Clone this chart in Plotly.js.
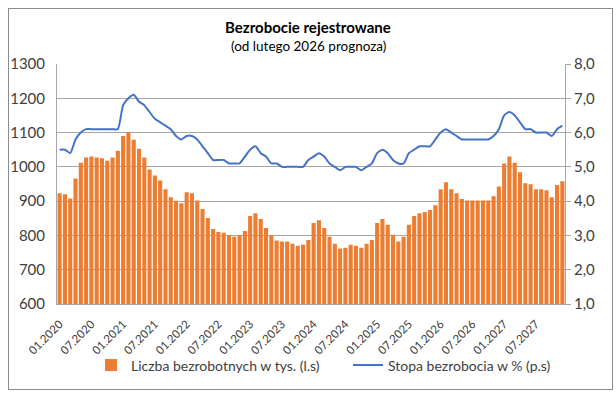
<!DOCTYPE html>
<html><head><meta charset="utf-8">
<script src="https://cdn.plot.ly/plotly-3.0.1.min.js"></script>
<style>html,body{margin:0;padding:0;background:#fff}
#wrap{position:relative;width:616px;height:394px}
#c{width:616px;height:394px}
#frame{position:absolute;left:8px;top:8px;width:603px;height:380px;border:1px solid #8C8C8C;pointer-events:none}
</style>
</head><body><div id="wrap"><div id="c"></div><div id="frame"></div></div>
<script>
// Months 01.2020 .. 12.2027
const months = [];
for (let y = 2020; y <= 2027; y++) for (let m = 1; m <= 12; m++) months.push((m < 10 ? '0' : '') + m + '.' + y);

const unemployed = [
  923, 920, 908, 966, 1012, 1027, 1030, 1027, 1025, 1018, 1027, 1047,
  1090, 1100, 1079, 1053, 1027, 992, 975, 960, 935, 911, 901, 894,
  926, 923, 902, 877, 851, 819, 810, 808, 801, 796, 800, 813,
  857, 865, 848, 822, 801, 785, 782, 782, 776, 770, 773, 787,
  836, 844, 822, 796, 776, 762, 764, 773, 770, 764, 776, 787,
  836, 848, 831, 802, 782, 796, 831, 857, 865, 868, 874, 888,
  935, 955, 935, 923, 906, 902, 902, 902, 902, 902, 914, 943,
  1010, 1030, 1012, 984, 952, 949, 935, 935, 932, 911, 947, 958
];

const rate = [
  5.5, 5.5, 5.4, 5.8, 6.0, 6.1, 6.1, 6.1, 6.1, 6.1, 6.1, 6.1,
  6.8, 7.0, 7.1, 6.9, 6.8, 6.6, 6.4, 6.3, 6.2, 6.1, 5.9, 5.8,
  5.9, 5.9, 5.8, 5.6, 5.4, 5.2, 5.2, 5.2, 5.1, 5.1, 5.1, 5.3,
  5.5, 5.6, 5.4, 5.3, 5.1, 5.1, 5.0, 5.0, 5.0, 5.0, 5.0, 5.2,
  5.3, 5.4, 5.3, 5.1, 5.0, 4.9, 5.0, 5.0, 5.0, 4.9, 5.0, 5.1,
  5.4, 5.5, 5.4, 5.2, 5.1, 5.1, 5.4, 5.5, 5.6, 5.6, 5.6, 5.8,
  6.0, 6.1, 6.0, 5.9, 5.8, 5.8, 5.8, 5.8, 5.8, 5.8, 5.9, 6.1,
  6.5, 6.6, 6.5, 6.3, 6.1, 6.1, 6.0, 6.0, 6.0, 5.9, 6.1, 6.2
];

const xTicks = months.filter((m, i) => i % 6 === 0);
const leftTicks = [600, 700, 800, 900, 1000, 1100, 1200, 1300];
const rightTicks = [1, 2, 3, 4, 5, 6, 7, 8];
const rightTickText = rightTicks.map(v => v.toFixed(1).replace('.', ','));

const FONT = 'Lato, "Open Sans", sans-serif';
const grey = '#404040';

const traces = [
  {
    type: 'bar', x: months, y: unemployed, name: 'Liczba bezrobotnych w tys. (l.s)',
    marker: {color: '#ED7D31'}, yaxis: 'y', legend: 'legend'
  },
  {
    type: 'scatter', mode: 'lines', x: months, y: rate, name: 'Stopa bezrobocia w % (p.s)',
    line: {color: '#4472C4', width: 2, shape: 'spline', smoothing: 0.6}, yaxis: 'y2', legend: 'legend2'
  }
];

const L = 57, R = 565, T = 64, B = 306;
const W = R - L, H = B - T;
const px = v => (v - L) / W;
const py = v => (B - v) / H;

const legendBase = {
  orientation: 'h', xanchor: 'left', y: py(368), yanchor: 'middle',
  font: {family: FONT, size: 14, color: grey}, itemwidth: 30,
  bgcolor: 'rgba(0,0,0,0)'
};

const layout = {
  width: 616, height: 394,
  margin: {l: L, r: 616 - R, t: T, b: 394 - B},
  paper_bgcolor: '#fff', plot_bgcolor: '#fff',
  font: {family: FONT, color: grey, size: 13},
  bargap: 0.22,
  showlegend: true,
  legend: Object.assign({}, legendBase, {x: px(91)}),
  legend2: Object.assign({}, legendBase, {x: px(348)}),
  annotations: [
    {text: '<b>Bezrobocie rejestrowane</b>', xref: 'paper', yref: 'paper',
     x: px(308), y: py(27), showarrow: false, xanchor: 'center', yanchor: 'middle',
     font: {family: FONT, size: 15, color: '#000'}},
    {text: '(od lutego 2026 prognoza)', xref: 'paper', yref: 'paper',
     x: px(308), y: py(46), showarrow: false, xanchor: 'center', yanchor: 'middle',
     font: {family: FONT, size: 13.5, color: '#000'}}
  ],
  xaxis: {
    type: 'category', tickmode: 'array', tickvals: xTicks, ticktext: xTicks,
    tickangle: -45, tickfont: {family: FONT, size: 11.5, color: grey}, ticklabelstandoff: 8,
    showgrid: false, showline: true, linecolor: '#A6A6A6', linewidth: 1,
    ticks: '', automargin: false
  },
  yaxis: {
    range: [600, 1300], tickmode: 'array', tickvals: leftTicks,
    tickfont: {family: FONT, size: 15, color: grey}, ticklabelstandoff: 8,
    showgrid: true, gridcolor: '#A6A6A6', gridwidth: 1,
    showline: true, linecolor: '#A6A6A6', zeroline: false, ticks: '', automargin: false
  },
  yaxis2: {
    overlaying: 'y', side: 'right', range: [1, 8], tickmode: 'array',
    tickvals: rightTicks, ticktext: rightTickText,
    tickfont: {family: FONT, size: 15, color: grey},
    showgrid: false, showline: true, linecolor: '#A6A6A6', zeroline: false,
    ticks: 'outside', ticklen: 5, tickcolor: '#A6A6A6', automargin: false
  }
};

Plotly.newPlot('c', traces, layout, {displayModeBar: false, staticPlot: true});
</script></body></html>
